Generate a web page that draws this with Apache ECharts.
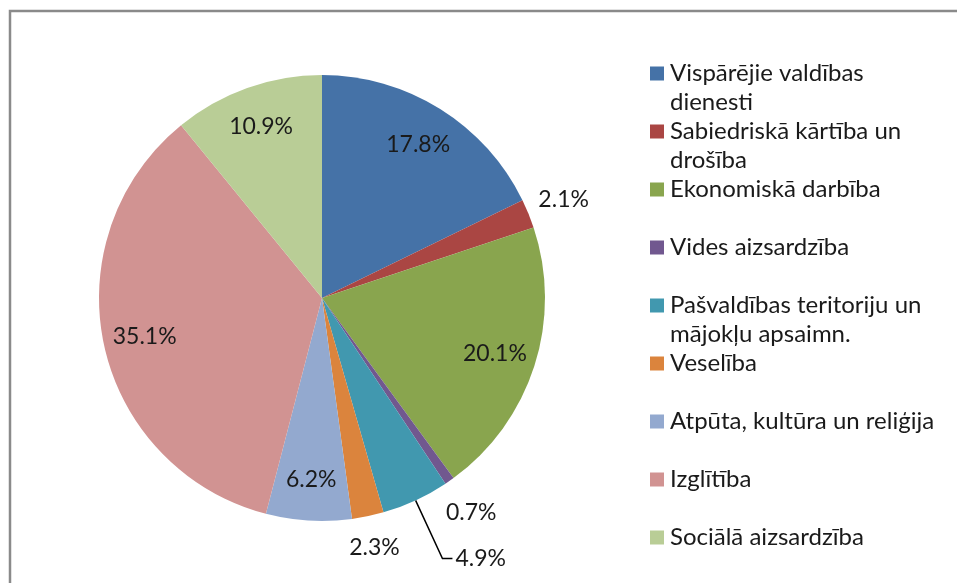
<!DOCTYPE html>
<html>
<head>
<meta charset="utf-8">
<script src="https://cdn.jsdelivr.net/npm/echarts@6/dist/echarts.min.js"></script>
<style>
  html, body { margin: 0; padding: 0; background: #fff; }
  #main { width: 957px; height: 583px; }
</style>
</head>
<body>
<div id="main"></div>
<script>
// budget shares by function, %
const categories = [
    'Vispārējie valdības\ndienesti',
    'Sabiedriskā kārtība un\ndrošība',
    'Ekonomiskā darbība',
    'Vides aizsardzība',
    'Pašvaldības teritoriju un\nmājokļu apsaimn.',
    'Veselība',
    'Atpūta, kultūra un reliģija',
    'Izglītība',
    'Sociālā aizsardzība'
];
const shares = [17.8, 2.1, 20.1, 0.7, 4.9, 2.3, 6.2, 35.1, 10.9];

const colors = ['#4572A7', '#AA4643', '#89A54E', '#71588F', '#4198AF', '#DB843D', '#93A9CF', '#D19392', '#B9CD96'];
// small slices get outside labels (index -> [length, length2])
const outerLine = { 1: [38, 0], 3: [38, 0], 4: [64, 10], 5: [32, 0] };

var chart = echarts.init(document.getElementById('main'));
const fmt = p => p.value.toFixed(1) + '%';
const labelFont = { fontFamily: 'Lato', fontSize: 23, color: '#1a1a1a' };

// legend text: blank first line so the icon sits level with the first text line
const legendText = name => ' \n' + (name.indexOf('\n') >= 0 ? name : name + '\n ');

chart.setOption({
    animation: false,
    graphic: [{
        type: 'rect',
        shape: { x: 10, y: 11, width: 980, height: 600 },
        style: { fill: 'none', stroke: '#8a8a8a', lineWidth: 2.5 },
        silent: true
    }],
    legend: {
        orient: 'vertical',
        left: 650,
        top: 30,
        padding: 0,
        itemGap: -29,
        itemWidth: 14,
        itemHeight: 14,
        icon: 'rect',
        data: categories,
        formatter: legendText,
        textStyle: {
            fontFamily: 'Lato',
            fontSize: 24,
            lineHeight: 29,
            color: '#1a1a1a',
            padding: [0, 0, 0, 1]
        }
    },
    series: [
        {
            name: 'main',
            type: 'pie',
            center: [322, 298],
            radius: 223,
            startAngle: 90,
            clockwise: true,
            avoidLabelOverlap: false,
            silent: true,
            label: { show: false },
            labelLayout: p => (p.dataIndex === 4 ? {} : { align: 'center' }),
            data: shares.map((v, i) => {
                const ln = outerLine[i];
                return {
                    name: categories[i],
                    value: v,
                    itemStyle: { color: colors[i] },
                    label: ln ? Object.assign({ show: true, position: 'outside', formatter: fmt, distanceToLabelLine: i === 4 ? 3 : 0 }, labelFont) : { show: false },
                    labelLine: ln ? { show: i === 4, length: ln[0], length2: ln[1], smooth: false, lineStyle: { color: '#000', width: 1.5 } } : { show: false }
                };
            })
        },
        {
            name: 'inner labels',
            type: 'pie',
            center: [322, 298],
            radius: [134, 223],
            startAngle: 90,
            clockwise: true,
            silent: true,
            avoidLabelOverlap: false,
            itemStyle: { color: 'rgba(0,0,0,0)' },
            labelLine: { show: false },
            data: shares.map((v, i) => ({
                name: categories[i],
                value: v,
                label: outerLine[i] ? { show: false } : Object.assign({ show: true, position: 'inside', formatter: fmt }, labelFont)
            }))
        }
    ]
});
</script>
</body>
</html>
